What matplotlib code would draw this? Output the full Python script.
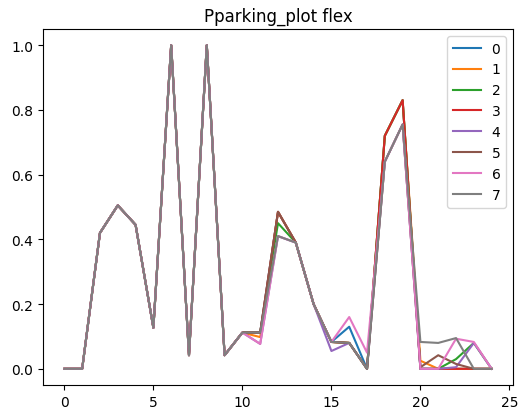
import matplotlib
matplotlib.use('Agg')
import matplotlib.pyplot as plt
import numpy as np

x = np.arange(25)
head = [0, 0, 0.42, 0.505, 0.445, 0.127, 1.0, 0.042, 1.0, 0.042, 0.112]

# values from x=11 to x=24 for each series
tails = {
    '0': [0.112, 0.485, 0.39, 0.2, 0.083, 0.13, 0.0, 0.72, 0.83, 0.0, 0.0, 0.0, 0.0, 0.0],
    '1': [0.098, 0.485, 0.39, 0.2, 0.083, 0.08, 0.0, 0.72, 0.83, 0.025, 0.0, 0.0, 0.0, 0.0],
    '2': [0.112, 0.45, 0.39, 0.2, 0.083, 0.08, 0.0, 0.72, 0.83, 0.0, 0.0, 0.03, 0.08, 0.0],
    '3': [0.112, 0.485, 0.39, 0.2, 0.083, 0.08, 0.0, 0.72, 0.83, 0.0, 0.0, 0.0, 0.0, 0.0],
    '4': [0.077, 0.41, 0.39, 0.2, 0.055, 0.08, 0.0, 0.64, 0.755, 0.0, 0.0, 0.005, 0.08, 0.0],
    '5': [0.112, 0.485, 0.39, 0.2, 0.083, 0.08, 0.0, 0.64, 0.755, 0.005, 0.042, 0.015, 0.0, 0.0],
    '6': [0.077, 0.41, 0.39, 0.2, 0.083, 0.16, 0.05, 0.64, 0.755, 0.0, 0.0, 0.093, 0.083, 0.0],
    '7': [0.112, 0.41, 0.39, 0.2, 0.083, 0.08, 0.0, 0.64, 0.755, 0.083, 0.08, 0.095, 0.0, 0.0],
}

fig = plt.figure(figsize=(5.32, 4.14), dpi=100)
ax = fig.add_axes([43/532, 28/414, 470/532, 356/414])
for name, t in tails.items():
    ax.plot(x, head + t, label=name)
ax.set_title('Pparking_plot flex')
ax.legend(loc='upper right')
fig.savefig('out.png', dpi=100)
